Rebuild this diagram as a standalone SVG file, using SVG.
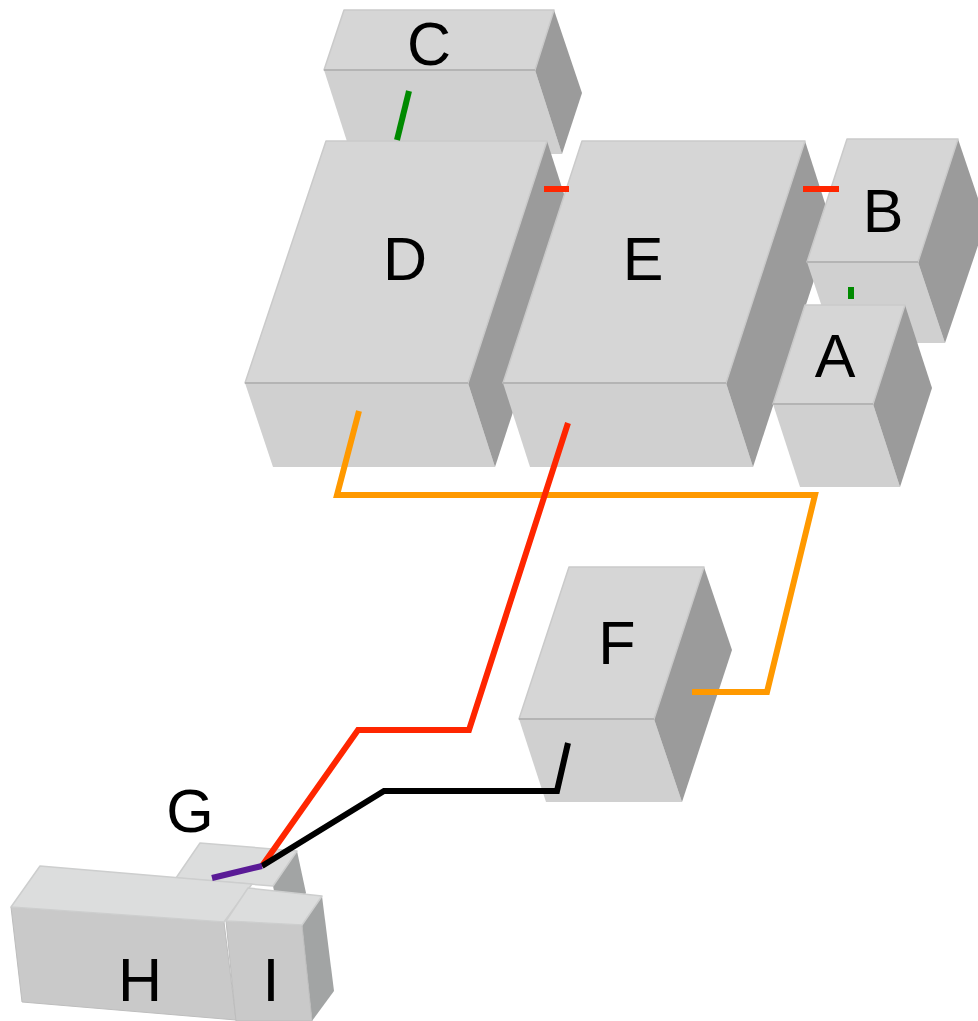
<svg xmlns="http://www.w3.org/2000/svg" width="978" height="1021" viewBox="0 0 978 1021">
<style>
.top{fill:#d6d6d6;stroke:#cacaca;stroke-width:1.5;stroke-linejoin:round}
.front{fill:#d0d0d0;stroke:none}
.side{fill:#9b9b9b;stroke:none}
.edge{stroke:#b4b4b4;stroke-width:2;fill:none}
.top2{fill:#dcdddd;stroke:#cdcece;stroke-width:1.5;stroke-linejoin:round}
.front2{fill:#c9c9c9;stroke:#bdbdbd;stroke-width:1}
.side2{fill:#a2a4a4;stroke:none}
.lbl{font-family:"Liberation Sans",Arial,sans-serif;font-size:61px;fill:#000;text-anchor:middle}
.c{fill:none;stroke-width:6;stroke-linecap:butt;stroke-linejoin:miter}
</style>
<rect width="978" height="1021" fill="#fff"/>
<g id="C">
<polygon class="front" points="324,70 535,70 562,154 351,154"/>
<polygon class="side" points="554,10 582,93 562,154 535,70"/>
<polygon class="top" points="344,10 554,10 535,70 324,70"/>
<line class="edge" x1="324" y1="70" x2="535" y2="70"/>
<text class="lbl" x="429" y="65">C</text>
</g>
<g id="D">
<polygon class="front" points="245,383 468,383 495,467 273,467"/>
<polygon class="side" points="547,141 574,225 495,467 468,383"/>
<polygon class="top" points="326,141 547,141 468,383 245,383"/>
<line class="edge" x1="245" y1="383" x2="468" y2="383"/>
<text class="lbl" x="405" y="280">D</text>
</g>
<g id="E">
<polygon class="front" points="503,383 726,383 753,467 530,467"/>
<polygon class="side" points="805,141 832,225 753,467 726,383"/>
<polygon class="top" points="582,141 805,141 726,383 503,383"/>
<line class="edge" x1="503" y1="383" x2="726" y2="383"/>
<text class="lbl" x="643" y="280">E</text>
</g>
<g id="B">
<polygon class="front" points="807,262 918,262 945,343 834,343"/>
<polygon class="side" points="958,139 986,222 945,343 918,262"/>
<polygon class="top" points="847,139 958,139 918,262 807,262"/>
<line class="edge" x1="807" y1="262" x2="918" y2="262"/>
<text class="lbl" x="883" y="232">B</text>
</g>
<g id="A">
<polygon class="front" points="773,404 873,404 900,487 800,487"/>
<polygon class="side" points="905,305 932,388 900,487 873,404"/>
<polygon class="top" points="805,305 905,305 873,404 773,404"/>
<line class="edge" x1="773" y1="404" x2="873" y2="404"/>
<text class="lbl" x="835" y="377">A</text>
</g>
<g id="F">
<polygon class="front" points="519,719 654,719 682,802 546,802"/>
<polygon class="side" points="704,567 732,650 682,802 654,719"/>
<polygon class="top" points="569,567 704,567 654,719 519,719"/>
<line class="edge" x1="519" y1="719" x2="654" y2="719"/>
<text class="lbl" x="617" y="664">F</text>
</g>
<g id="G">
<polygon class="side2" points="297,851 306,893 282,930 273,886"/>
<polygon class="top2" points="200,843 297,851 273,886 176,878"/>
<text class="lbl" x="190" y="832">G</text>
</g>
<g id="H">
<polygon class="front2" points="11,907 224,922 236,1020 22,1002"/>
<polygon class="top2" points="40,866 252,884 224,922 11,907"/>
<text class="lbl" x="140" y="1001">H</text>
</g>
<g id="I">
<polygon class="side2" points="322,896 334,991 312,1021 302,925"/>
<polygon class="front2" points="226,921 302,925 312,1021 236,1021"/>
<polygon class="top2" points="248,888 322,896 302,925 226,921"/>
<text class="lbl" x="271" y="1001">I</text>
</g>
<g id="connectors">
<line class="c" stroke="#008a00" x1="397" y1="140" x2="409" y2="91"/>
<line class="c" stroke="#ff2600" x1="544" y1="189" x2="569" y2="189"/>
<line class="c" stroke="#ff2600" x1="803" y1="189" x2="839" y2="189"/>
<line class="c" stroke="#008a00" stroke-width="8" x1="851" y1="287" x2="851" y2="299"/>
<polyline class="c" stroke="#ff9900" points="359,411 337,495 815,495 767,692 692,692"/>
<polyline class="c" stroke="#ff2600" points="568,423 469,730 358,730 262,866"/>
<polyline class="c" stroke="#000" points="568,743 557,791 384,791 262,866"/>
<line class="c" stroke="#5a1a96" x1="212" y1="878" x2="262" y2="866"/>
</g>
</svg>
